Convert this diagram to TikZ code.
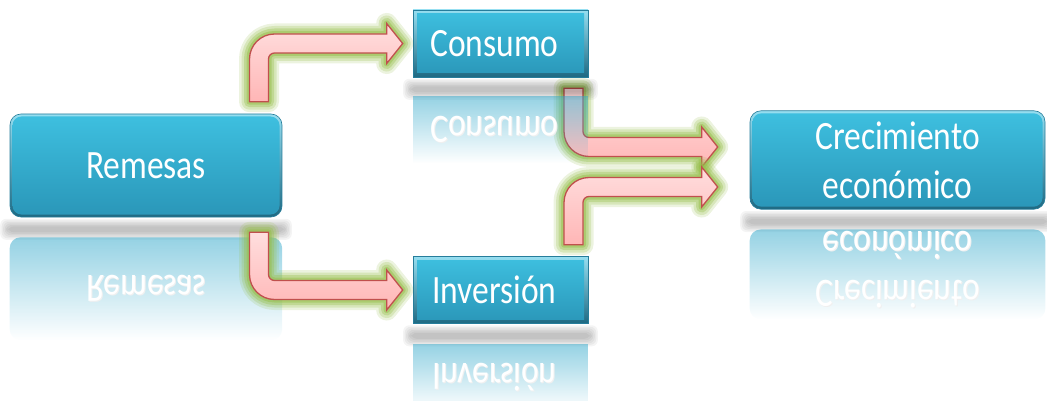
\documentclass[tikz,border=0pt]{standalone}
\usepackage{fontspec}
\setmainfont{Carlito}
\usetikzlibrary{calc,fadings}

\definecolor{boxhi}{RGB}{62,192,224}
\definecolor{boxlo}{RGB}{42,150,184}
\definecolor{rimtop}{RGB}{150,222,240}
\definecolor{rimbot}{RGB}{30,105,130}
\definecolor{boxedge}{RGB}{38,125,155}
\definecolor{refl}{RGB}{50,168,202}
\definecolor{arrowline}{RGB}{192,80,77}
\definecolor{arrowtop}{RGB}{255,222,222}
\definecolor{arrowbot}{RGB}{255,182,182}
\definecolor{glow}{RGB}{150,190,75}

\tikzfading[name=reflfade, top color=transparent!48, middle color=transparent!82, bottom color=transparent!100]

\pgfdeclarelayer{back}
\pgfdeclarelayer{refl}
\pgfsetlayers{back,refl,main}

% vertically stretched label text
\newcommand\lbl[1]{\scalebox{1}[1.2]{#1}}
% two-line label of the last block, set a little low in its box
\newcommand\creclbl{\raisebox{-4pt}[\height][\depth]{\lbl{\begin{tabular}{@{}c@{}}Crecimiento\\económico\end{tabular}}}}

% soft grey shadow strip under a block (#1 = block name)
\newcommand\softband[1]{%
  \foreach \d in {0,1.5,...,7.5} {%
    \fill[black, opacity=0.045, rounded corners=6pt]
      ([shift={(-\d pt-2pt,-9pt+\d pt)}]#1.south west) rectangle
      ([shift={(\d pt+2pt,-15pt-\d pt)}]#1.south east);
  }}

% bent block arrow: #1 = 1 (up, then right) or -1 (down, then right),
% #2 = centre of the free end of the vertical leg, #3 = tip
\newcommand\aw{9.5}   % half shaft width
\newcommand\ari{6}    % inner bend radius
\newcommand\aro{25}   % outer bend radius
\newcommand\ahh{20}   % half head height
\newcommand\ahl{16}   % head length
\newcommand\bentarrow[3]{%
  let \p1=(#2), \p2=(#3), \n1={#1} in
  ({\x1-\aw},{\y1})
  -- ({\x1-\aw},{\y2+\n1*(\aw-\aro)})
  .. controls ({\x1-\aw},{\y2+\n1*(\aw-0.448*\aro)}) and ({\x1-\aw+0.448*\aro},{\y2+\n1*\aw}) ..
     ({\x1-\aw+\aro},{\y2+\n1*\aw})
  -- ({\x2-\ahl},{\y2+\n1*\aw})
  -- ({\x2-\ahl},{\y2+\n1*\ahh})
  -- ({\x2},{\y2})
  -- ({\x2-\ahl},{\y2-\n1*\ahh})
  -- ({\x2-\ahl},{\y2-\n1*\aw})
  -- ({\x1+\aw+\ari},{\y2-\n1*\aw})
  .. controls ({\x1+\aw+0.448*\ari},{\y2-\n1*\aw}) and ({\x1+\aw},{\y2-\n1*(\aw+0.448*\ari)}) ..
     ({\x1+\aw},{\y2-\n1*(\aw+\ari)})
  -- ({\x1+\aw},{\y1}) -- cycle}

\tikzset{
  boxtext/.style={text=white, font=\fontsize{33.5}{41}\selectfont, inner sep=0pt},
  softbox/.style={boxtext, rounded corners=11pt, top color=rimtop, bottom color=rimbot,
    draw=boxedge, line width=0.6pt,
    path picture={\shade[rounded corners=9pt, top color=boxhi, bottom color=boxlo]
      ([shift={(2.5pt,2.5pt)}]path picture bounding box.south west) rectangle
      ([shift={(-2.5pt,-2.5pt)}]path picture bounding box.north east);}},
  bevelbox/.style={boxtext, top color=rimtop, bottom color=rimbot,
    draw=boxedge, line width=0.6pt,
    path picture={\shade[top color=boxhi, bottom color=boxlo]
      ([shift={(4pt,4pt)}]path picture bounding box.south west) rectangle
      ([shift={(-4pt,-4pt)}]path picture bounding box.north east);}},
  mirrortext/.style={boxtext, yscale=-1},
  arrowglow/.style={
    preaction={draw=glow, line width=21pt, draw opacity=0.18, line join=round},
    preaction={draw=glow, line width=16pt, draw opacity=0.25, line join=round},
    preaction={draw=glow, line width=11pt, draw opacity=0.35, line join=round},
    preaction={draw=glow, line width=6pt, draw opacity=0.50, line join=round}},
  arrowbody/.style={arrowglow, top color=arrowtop, bottom color=arrowbot,
    draw=arrowline, line width=1.3pt, line join=miter},
  reflfill/.style={fill=refl, path fading=reflfade},
}

\begin{document}
\begin{tikzpicture}[x=1pt, y=-1pt]
\useasboundingbox (0,0) rectangle (1047,401);

% the four blocks
\node[softbox, minimum width=272pt, minimum height=103pt] (rem) at (146,165.5) {\lbl{Remesas}};
\node[bevelbox, minimum width=175pt, minimum height=67pt] (con) at (500.5,43.5) {\lbl{Consumo}\hspace*{12pt}};
\node[bevelbox, minimum width=175pt, minimum height=67pt] (inv) at (500.5,290) {\lbl{Inversión}\hspace*{12pt}};
\node[softbox, minimum width=295pt, minimum height=90pt] (crec) at (897.5,160) {\creclbl};

% shadows and mirrored reflections under each block
\begin{pgfonlayer}{refl}
  % Remesas
  \softband{rem}
  \fill[reflfill, rounded corners=11pt] ([yshift=-20pt]rem.south west) rectangle ([yshift=-123pt]rem.south east);
  \node[mirrortext, text=black!6] (remRs) at ([shift={(1pt,-124pt)}]rem.center) {\lbl{Remesas}};
  \node[mirrortext] (remR) at ([yshift=-123pt]rem.center) {\lbl{Remesas}};
  % Consumo
  \softband{con}
  \fill[reflfill] ([yshift=-19pt]con.south west) rectangle ([yshift=-86pt]con.south east);
  \node[mirrortext, text=black!6] (conRs) at ([shift={(1pt,-87pt)}]con.center) {\lbl{Consumo}\hspace*{12pt}};
  \node[mirrortext] (conR) at ([yshift=-86pt]con.center) {\lbl{Consumo}\hspace*{12pt}};
  % Inversión
  \softband{inv}
  \fill[reflfill] ([yshift=-20pt]inv.south west) rectangle ([yshift=-87pt]inv.south east);
  \node[mirrortext, text=black!6] (invRs) at ([shift={(1pt,-88pt)}]inv.center) {\lbl{Inversión}\hspace*{12pt}};
  \node[mirrortext] (invR) at ([yshift=-87pt]inv.center) {\lbl{Inversión}\hspace*{12pt}};
  % Crecimiento económico
  \softband{crec}
  \fill[reflfill, rounded corners=11pt] ([yshift=-20pt]crec.south west) rectangle ([yshift=-110pt]crec.south east);
  \node[mirrortext, text=black!6] (crecRs) at ([shift={(1pt,-111pt)}]crec.center) {\creclbl};
  \node[mirrortext] (crecR) at ([yshift=-110pt]crec.center) {\creclbl};
\end{pgfonlayer}

% arrow end points
\coordinate (a1s) at ([shift={(113pt,12pt)}]rem.north);
\coordinate (a1t) at ([xshift=-10pt]con.west);
\coordinate (a2s) at ([shift={(113pt,-15pt)}]rem.south);
\coordinate (a2t) at ([xshift=-10pt]inv.west);
\coordinate (a3s) at ([shift={(73pt,-11pt)}]con.south);
\coordinate (a3t) at ([shift={(-32pt,13pt)}]crec.west);
\coordinate (a4s) at ([shift={(73pt,11.5pt)}]inv.north);
\coordinate (a4t) at ([shift={(-32pt,-27pt)}]crec.west);

% the arrow leaving Consumo runs beneath its reflection
\begin{pgfonlayer}{back}
  \path[arrowbody] \bentarrow{-1}{a3s}{a3t};
\end{pgfonlayer}
\path[arrowbody] \bentarrow{1}{a1s}{a1t};
\path[arrowbody] \bentarrow{-1}{a2s}{a2t};
\path[arrowbody] \bentarrow{1}{a4s}{a4t};
\end{tikzpicture}
\end{document}
